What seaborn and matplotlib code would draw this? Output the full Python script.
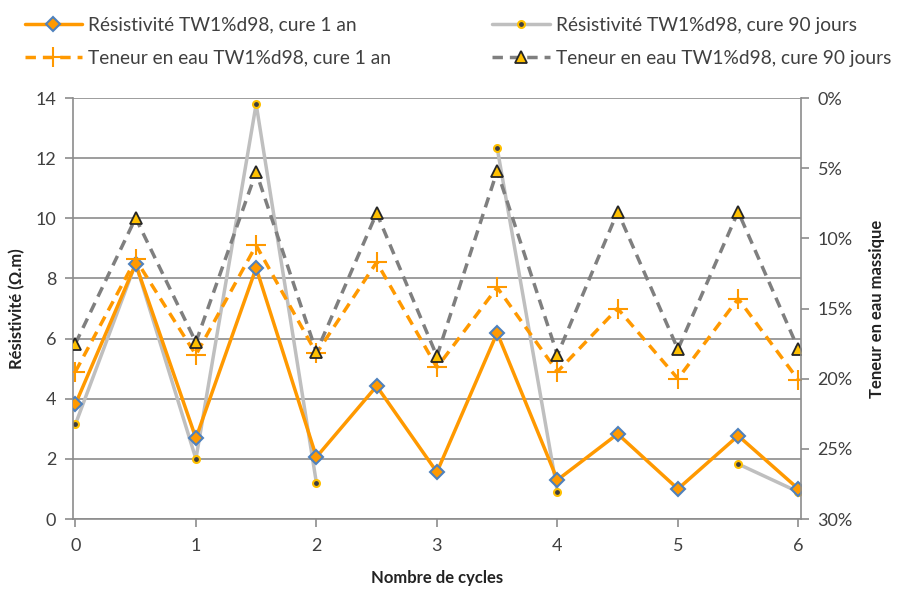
import numpy as np
import pandas as pd
import matplotlib
matplotlib.use("Agg")
import matplotlib.pyplot as plt
import seaborn as sns

# data
cycles = [0, 0.5, 1, 1.5, 2, 2.5, 3, 3.5, 4, 4.5, 5, 5.5, 6]
resist_1an = [3.82, 8.48, 2.69, 8.35, 2.06, 4.42, 1.56, 6.19, 1.30, 2.83, 1.00, 2.77, 1.00]
resist_90j = [3.15, 8.50, 2.00, 13.80, 1.20, np.nan, np.nan, 12.34, 0.90, np.nan, np.nan, 1.83, 0.90]
eau_1an = [19.5, 11.5, 18.3, 10.5, 18.2, 11.7, 19.2, 13.5, 19.5, 15.0, 20.0, 14.3, 20.1]
eau_90j = [17.5, 8.55, 17.4, 5.27, 18.1, 8.2, 18.4, 5.2, 18.3, 8.1, 17.9, 8.1, 17.9]

labels = ["Résistivité TW1%d98, cure 1 an",
          "Résistivité TW1%d98, cure 90 jours",
          "Teneur en eau TW1%d98, cure 1 an",
          "Teneur en eau TW1%d98, cure 90 jours"]

df = pd.DataFrame({"cycles": cycles, "r1": resist_1an, "r90": resist_90j,
                   "e1": eau_1an, "e90": eau_90j})
# gaps in the 90 day resistivity series -> separate line pieces
df["seg"] = df["r90"].isna().cumsum()

sns.set_style("white")
plt.rcParams["font.family"] = ["Lato", "DejaVu Sans"]

orange = "#FF9900"
grid_c = "#8C8C8C"
txt_c = "#404040"

fig = plt.figure(figsize=(9.09, 5.89), dpi=100)
ax = fig.add_axes([0.0803, 0.1188, 0.881 - 0.0803, 0.8336 - 0.1188])
ax2 = ax.twinx()

sns.lineplot(data=df, x="cycles", y="r90", units="seg", estimator=None, ax=ax,
             color="#BFBFBF", lw=2.5, marker="o", ms=5, mfc="#3F3F3F",
             mec="#FFC000", mew=1.5, label=labels[1], zorder=2)
sns.lineplot(data=df, x="cycles", y="r1", ax=ax, color=orange, lw=2.5,
             marker="D", ms=7, mfc=orange, mec="#4F81BD", mew=1.5,
             label=labels[0], zorder=3)
sns.lineplot(data=df, x="cycles", y="e1", ax=ax2, color=orange, lw=2.5,
             ls=(0, (3, 2)), marker="+", ms=15, mew=1.5, mec=orange,
             label=labels[2])
sns.lineplot(data=df, x="cycles", y="e90", ax=ax2, color="#7F7F7F", lw=2.5,
             ls=(0, (3, 2)), marker="^", ms=9, mfc="#FFC000", mec="#262626",
             mew=1.3, label=labels[3])

ax.set_xlim(-0.02, 6.02)
ax.set_ylim(0, 14)
ax.set_yticks(range(0, 15, 2))
ax.set_xticks(range(0, 7))
ax2.set_ylim(30, 0)
ax2.set_yticks(range(0, 31, 5))
ax2.set_yticklabels([f"{v}%" for v in range(0, 31, 5)])

ax.grid(axis="y", color=grid_c, lw=1.2)
ax.set_axisbelow(True)
for a in (ax, ax2):
    for s in a.spines.values():
        s.set_visible(False)
ax.spines["left"].set_visible(True)
ax.spines["bottom"].set_visible(True)
ax2.spines["right"].set_visible(True)
for s in (ax.spines["left"], ax.spines["bottom"], ax2.spines["right"]):
    s.set_color(grid_c)
    s.set_linewidth(1.2)

ax.tick_params(axis="both", which="major", length=6, width=1.2, color=grid_c,
               labelsize=13, labelcolor=txt_c, direction="out", pad=4)
ax.tick_params(axis="x", pad=8)
ax.tick_params(axis="y", left=True, pad=6)
ax.tick_params(axis="x", bottom=True)
ax2.tick_params(axis="y", right=True, length=6, width=1.2, color=grid_c,
                labelsize=13, labelcolor=txt_c, direction="out", pad=6)

ax.set_xlabel("Nombre de cycles", fontsize=12, fontweight="bold", color="#222222", labelpad=11)
ax.set_ylabel("Résistivité (Ω.m)", fontsize=12, fontweight="bold", color="#222222", labelpad=7)
ax2.set_ylabel("Teneur en eau massique", fontsize=12, fontweight="bold", color="#222222", labelpad=12)

# one legend across the top, two columns
hd = {}
for a in (ax, ax2):
    h, l = a.get_legend_handles_labels()
    for hh, ll in zip(h, l):
        hd.setdefault(ll, hh)
    if a.get_legend() is not None:
        a.get_legend().remove()
order = [labels[0], labels[2], labels[1], labels[3]]
fig.legend([hd[k] for k in order], order, loc="upper left",
           bbox_to_anchor=(0.0187, 0.0, 0.970, 0.985), mode="expand", ncol=2,
           frameon=False, fontsize=13.8, handlelength=3.0, handletextpad=0.32,
           numpoints=1, labelspacing=0.85, labelcolor=txt_c, borderaxespad=0)

fig.savefig("out.png", dpi=100)
